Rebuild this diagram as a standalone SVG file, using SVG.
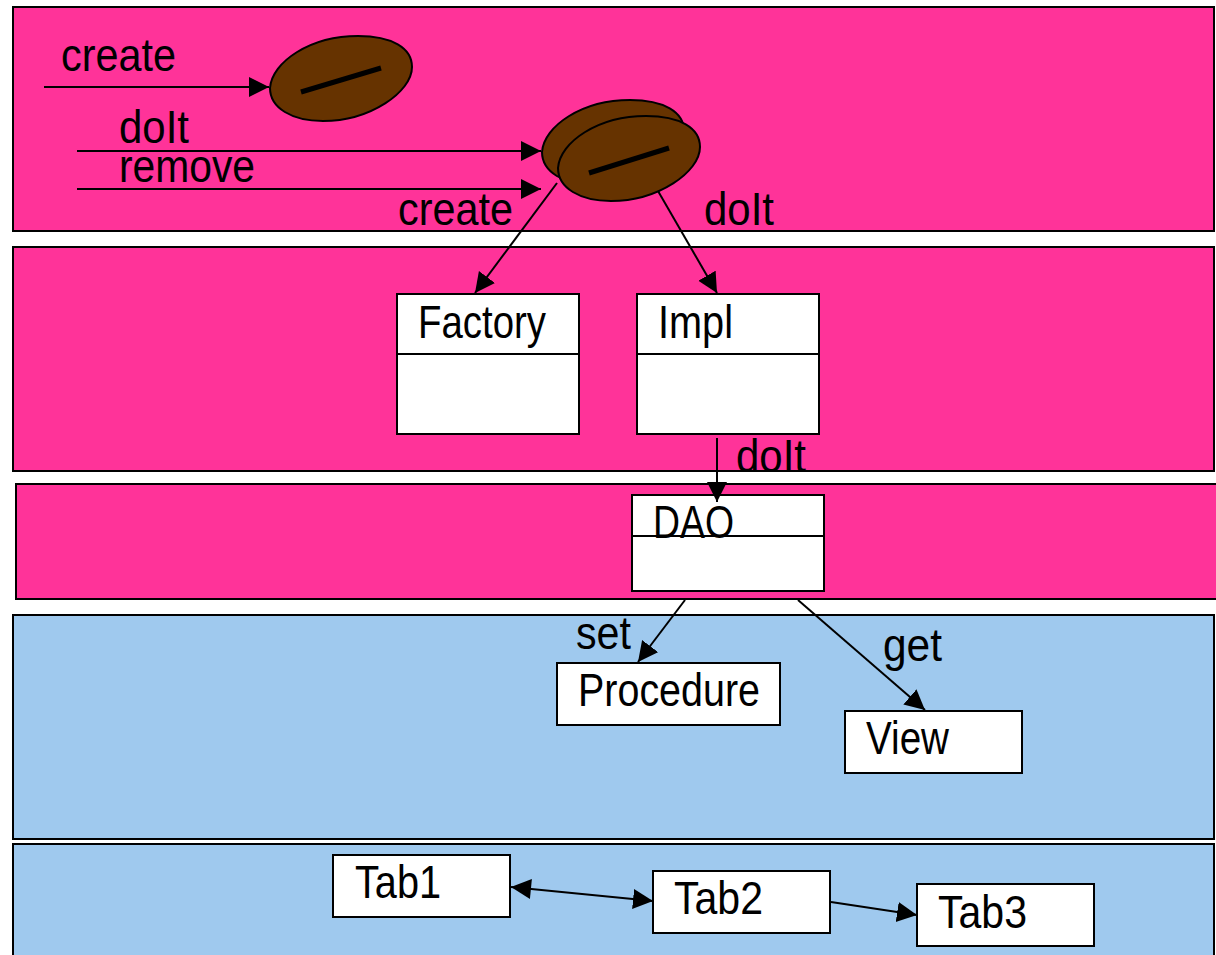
<svg xmlns="http://www.w3.org/2000/svg" width="1216" height="955" viewBox="0 0 1216 955">
<style>
.pink{fill:#ff3399;stroke:#000;stroke-width:2}
.blue{fill:#9fc9ee;stroke:#000;stroke-width:2}
.box{fill:#fff;stroke:#000;stroke-width:2}
.bean{fill:#663300;stroke:#000;stroke-width:2}
.slot{stroke:#000;stroke-width:5;fill:none}
.div{stroke:#000;stroke-width:2;fill:none}
.c{stroke:#000;stroke-width:2;fill:none;marker-end:url(#a)}
text{font-family:"Liberation Sans",Arial,sans-serif;font-size:47px;fill:#000}
</style>
<defs>
<marker id="a" markerUnits="userSpaceOnUse" markerWidth="22" markerHeight="22" refX="20" refY="10" orient="auto"><path d="M0 0L20 10L0 20z" fill="#000"/></marker>
<marker id="b" markerUnits="userSpaceOnUse" markerWidth="22" markerHeight="22" refX="0" refY="10" orient="auto"><path d="M20 0L0 10L20 20z" fill="#000"/></marker>
<path id="beanshape" d="M270 88C272 62 310 36 358 36C392 36 412 48 412 67C412 92 370 121 323 121C292 121 270 108 270 88Z"/>
</defs>
<rect width="1216" height="955" fill="#fff"/>
<g id="bands">
<rect class="pink" x="13" y="7" width="1201" height="224"/>
<rect class="pink" x="13" y="247" width="1201" height="224"/>
<rect class="pink" x="16" y="484" width="1202" height="115"/>
<rect class="blue" x="13" y="615" width="1201" height="224"/>
<rect class="blue" x="13" y="844" width="1201" height="113"/>
</g>
<g id="bean-create">
<use href="#beanshape" class="bean"/>
<line class="slot" x1="301" y1="92" x2="381" y2="68"/>
</g>
<g id="bean-instance">
<use href="#beanshape" class="bean" x="272" y="64"/>
<use href="#beanshape" class="bean" x="288" y="80"/>
<line class="slot" x1="589" y1="173" x2="669" y2="148"/>
</g>
<g id="node-factory">
<rect class="box" x="397" y="294" width="182" height="140"/>
<line class="div" x1="397" y1="354" x2="579" y2="354"/>
<text x="418" y="338" textLength="128" lengthAdjust="spacingAndGlyphs">Factory</text>
</g>
<g id="node-impl">
<rect class="box" x="637" y="294" width="182" height="140"/>
<line class="div" x1="637" y1="354" x2="819" y2="354"/>
<text x="658" y="338" textLength="75" lengthAdjust="spacingAndGlyphs">Impl</text>
</g>
<g id="node-dao">
<rect class="box" x="632" y="495" width="192" height="96"/>
<line class="div" x1="632" y1="536" x2="824" y2="536"/>
<text x="653" y="538" textLength="81" lengthAdjust="spacingAndGlyphs">DAO</text>
</g>
<g id="node-procedure">
<rect class="box" x="557" y="663" width="223" height="62"/>
<text x="578" y="706" textLength="182" lengthAdjust="spacingAndGlyphs">Procedure</text>
</g>
<g id="node-view">
<rect class="box" x="845" y="711" width="177" height="62"/>
<text x="866" y="754" textLength="83" lengthAdjust="spacingAndGlyphs">View</text>
</g>
<g id="node-tab1">
<rect class="box" x="333" y="855" width="177" height="62"/>
<text x="355" y="898" textLength="86" lengthAdjust="spacingAndGlyphs">Tab1</text>
</g>
<g id="node-tab2">
<rect class="box" x="653" y="871" width="177" height="62"/>
<text x="674" y="914" textLength="89" lengthAdjust="spacingAndGlyphs">Tab2</text>
</g>
<g id="node-tab3">
<rect class="box" x="917" y="884" width="177" height="62"/>
<text x="938" y="928" textLength="89" lengthAdjust="spacingAndGlyphs">Tab3</text>
</g>
<g id="connectors">
<line class="c" x1="44" y1="87" x2="269" y2="87"/>
<line class="c" x1="77" y1="151" x2="541" y2="151"/>
<line class="c" x1="77" y1="189" x2="541" y2="189"/>
<line class="c" x1="557" y1="183" x2="475" y2="293"/>
<line class="c" x1="658" y1="191" x2="717" y2="293"/>
<line class="c" x1="717" y1="438" x2="717" y2="502"/>
<line class="c" x1="685" y1="600" x2="638" y2="662"/>
<line class="c" x1="798" y1="600" x2="925" y2="710"/>
<line class="c" x1="511" y1="887" x2="653" y2="901" style="marker-start:url(#b)"/>
<line class="c" x1="831" y1="902" x2="917" y2="915"/>
</g>
<g id="labels">
<text x="61" y="71" textLength="115" lengthAdjust="spacingAndGlyphs">create</text>
<text x="119" y="143" textLength="70" lengthAdjust="spacingAndGlyphs">doIt</text>
<text x="119" y="182" textLength="136" lengthAdjust="spacingAndGlyphs">remove</text>
<text x="398" y="225" textLength="115" lengthAdjust="spacingAndGlyphs">create</text>
<text x="704" y="225" textLength="70" lengthAdjust="spacingAndGlyphs">doIt</text>
<text x="736" y="472" textLength="70" lengthAdjust="spacingAndGlyphs">doIt</text>
<text x="576" y="649" textLength="55" lengthAdjust="spacingAndGlyphs">set</text>
<text x="883" y="661" textLength="59" lengthAdjust="spacingAndGlyphs">get</text>
</g>
</svg>
